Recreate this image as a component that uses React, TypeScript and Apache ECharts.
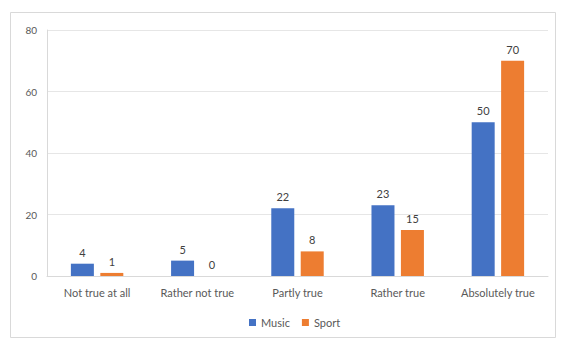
import React, { useEffect, useRef } from "react";
import * as echarts from "echarts";

const categories = ["Not true at all", "Rather not true", "Partly true", "Rather true", "Absolutely true"];
const music = [4, 5, 22, 23, 50];
const sport = [1, 0, 8, 15, 70];
const seriesNames = ["Music", "Sport"];

export default function App() {
  const ref = useRef<HTMLDivElement>(null);
  useEffect(() => {
    const chart = echarts.init(ref.current!, null, { renderer: "svg" });
    const font = "Lato, 'Open Sans', sans-serif";
    chart.setOption({
      animation: false,
      backgroundColor: "#ffffff",
      textStyle: { fontFamily: font },
      graphic: [
        {
          type: "rect",
          shape: { x: 10.5, y: 12.5, width: 545, height: 325 },
          style: { fill: "none", stroke: "#d9d9d9", lineWidth: 1 },
          silent: true,
        },
      ],
      grid: { left: 47, right: 16, top: 30, bottom: 64 },
      legend: {
        bottom: 7,
        left: 244,
        itemWidth: 7,
        itemHeight: 7,
        itemGap: 12,
        icon: "rect",
        textStyle: { color: "#595959", fontSize: 11, fontFamily: font },
        data: seriesNames,
      },
      xAxis: {
        type: "category",
        data: categories,
        axisLine: { show: true, lineStyle: { color: "#d9d9d9" } },
        axisTick: { show: false },
        axisLabel: { color: "#595959", fontSize: 11, margin: 11, fontFamily: font, interval: 0 },
      },
      yAxis: {
        type: "value",
        min: 0,
        max: 80,
        interval: 20,
        axisLine: { show: true, lineStyle: { color: "#d9d9d9" } },
        axisTick: { show: false },
        splitLine: { lineStyle: { color: "#e6e6e6" } },
        axisLabel: { color: "#595959", fontSize: 10, margin: 10, fontFamily: font },
      },
      series: [
        {
          name: seriesNames[0],
          type: "bar",
          data: music,
          barWidth: 23,
          barGap: "28%",
          itemStyle: { color: "#4472C4" },
          label: { show: true, position: "top", color: "#404040", fontSize: 11, distance: 6, fontFamily: font },
        },
        {
          name: seriesNames[1],
          type: "bar",
          data: sport,
          barWidth: 23,
          barGap: "28%",
          itemStyle: { color: "#ED7D31" },
          label: { show: true, position: "top", color: "#404040", fontSize: 11, distance: 6, fontFamily: font },
        },
      ],
    });
    return () => chart.dispose();
  }, []);
  return (
    <div
      ref={ref}
      style={{ position: "fixed", left: 0, top: 0, width: 564, height: 340 }}
    />
  );
}
